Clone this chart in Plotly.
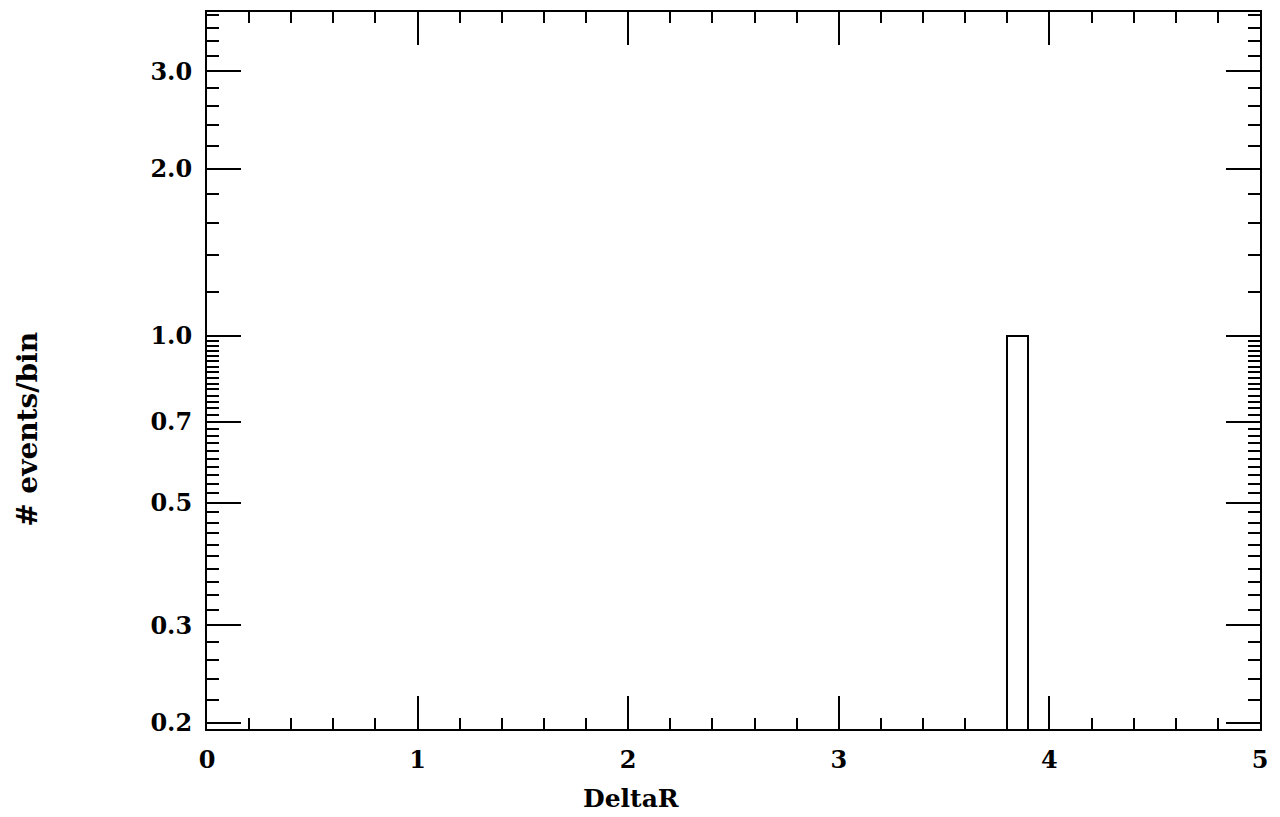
import plotly.graph_objects as go

# ---- data ----
bin_left = [3.8]          # left edge of the filled bin
bin_width = [0.1]
counts = [1]

x_major = [0, 1, 2, 3, 4, 5]
x_major_text = ["0", "1", "2", "3", "4", "5"]
x_minor = [round(0.2 * i, 1) for i in range(26)]

y_major = [0.2, 0.3, 0.4, 0.5, 0.6, 0.7, 0.8, 0.9, 1.0, 2.0, 3.0]
y_major_text = ["0.2", "0.3", "", "0.5", "", "0.7", "", "", "1.0", "2.0", "3.0"]
y_minor = [round(0.2 + 0.02 * i, 2) for i in range(41)] + [round(1.0 + 0.2 * i, 1) for i in range(15)]

x_title = "DeltaR"
y_title = "# events/bin"

FONT = "DejaVu Serif"

fig = go.Figure()
fig.add_trace(go.Bar(
    x=[l + w / 2 for l, w in zip(bin_left, bin_width)],
    y=counts,
    width=bin_width,
    marker=dict(color="white", line=dict(color="black", width=2)),
    showlegend=False,
))

# page body has an 8px margin: figure starts at (8, 8)
fig.update_layout(
    width=1264, height=809,
    margin=dict(l=199, r=12, t=2, b=88),
    paper_bgcolor="white", plot_bgcolor="white",
    font=dict(family=FONT, size=24, color="black", weight="bold"),
    bargap=0,
)

fig.update_xaxes(
    range=[0, 5], showgrid=False, zeroline=False,
    showline=True, linecolor="black", linewidth=2, mirror="ticks",
    ticks="inside", ticklen=33, tickwidth=2, tickcolor="black",
    tickmode="array", tickvals=x_major, ticktext=x_major_text,
    ticklabelstandoff=8,
    tickfont=dict(family=FONT, size=24, weight="bold"),
    minor=dict(tickmode="array", tickvals=x_minor, ticks="inside",
               ticklen=11, tickwidth=2, tickcolor="black", showgrid=False),
)
fig.update_yaxes(
    type="log", range=[-0.7098, 0.5845], showgrid=False, zeroline=False,
    showline=True, linecolor="black", linewidth=2, mirror="ticks",
    ticks="inside", ticklen=34, tickwidth=2, tickcolor="black",
    tickmode="array", tickvals=y_major, ticktext=y_major_text,
    ticklabelstandoff=8,
    tickfont=dict(family=FONT, size=24, weight="bold"),
    minor=dict(tickmode="array", tickvals=y_minor, ticks="inside",
               ticklen=12, tickwidth=2, tickcolor="black", showgrid=False),
)

fig.add_annotation(text=x_title, xref="paper", yref="paper",
                   x=0.4027, y=-0.0974, xanchor="center", yanchor="middle",
                   showarrow=False, font=dict(family=FONT, size=25, weight="bold"))
fig.add_annotation(text=y_title, xref="paper", yref="paper",
                   x=-0.170, y=0.4186, xanchor="center", yanchor="middle",
                   textangle=-90, showarrow=False,
                   font=dict(family=FONT, size=28, weight="bold"))

fig.write_html("out.html")
